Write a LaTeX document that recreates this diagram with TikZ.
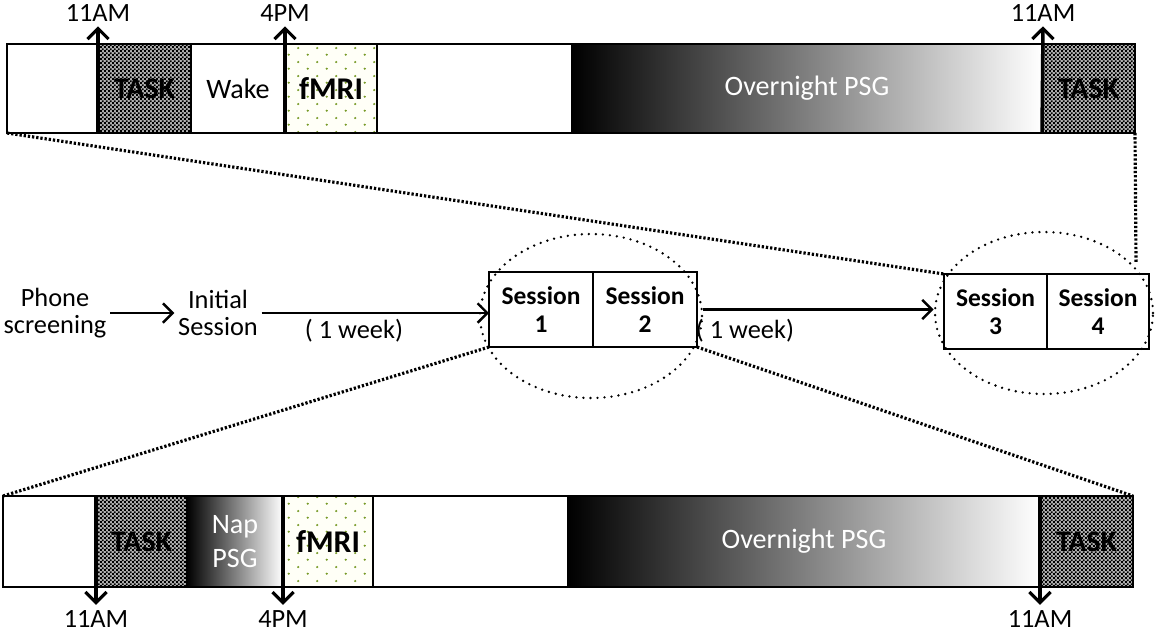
\documentclass[tikz,border=0pt]{standalone}
\usepackage{fontspec}
\setmainfont{Carlito}
\usetikzlibrary{arrows.meta,patterns,patterns.meta,shapes.geometric}
\definecolor{fmribg}{RGB}{255,255,247}
\definecolor{dotgreen}{RGB}{120,155,40}
\tikzdeclarepattern{
  name=finecheck,
  type=uncolored,
  bottom left={(0pt,0pt)},
  top right={(2.4pt,2.4pt)},
  tile size={(2.4pt,2.4pt)},
  code={
    \fill (0pt,0pt) rectangle (1.2pt,1.2pt);
    \fill (1.2pt,1.2pt) rectangle (2.4pt,2.4pt);
  }
}
\tikzdeclarepattern{
  name=greendots,
  type=colored,
  bottom left={(0pt,0pt)},
  top right={(10.8pt,8pt)},
  tile size={(10.8pt,8pt)},
  code={
    \fill[dotgreen] (2.7pt,2pt) circle (0.7pt);
    \fill[dotgreen] (8.1pt,6pt) circle (0.7pt);
  }
}
\begin{document}
\begin{tikzpicture}[x=0.02cm,y=-0.02cm,
  seg/.style={draw, line width=0.75pt, inner sep=0pt, outer sep=0pt, align=center},
  plainseg/.style={seg, fill=white, font=\fontsize{16}{18}\selectfont},
  taskseg/.style={seg, line width=1.1pt, preaction={fill=black!30}, pattern=finecheck, pattern color=black,
     font=\fontsize{17}{19}\selectfont\bfseries},
  fmriseg/.style={seg, preaction={fill=fmribg}, pattern=greendots, font=\fontsize{18}{20}\selectfont\bfseries},
  gradseg/.style={seg, left color=black, right color=white, text=white,
     font=\fontsize{16}{19}\selectfont},
  timelab/.style={font=\fontsize{15}{17}\selectfont, inner sep=0pt, outer sep=3pt},
  timearrow/.style={line width=2pt, -{Straight Barb[length=6pt,width=12pt,line width=1.8pt]}},
  mtext/.style={font=\fontsize{15}{15.5}\selectfont, align=center, inner sep=2pt},
  sessbox/.style={draw, line width=0.75pt, inner sep=0pt, outer sep=0pt, align=center,
     font=\fontsize{14.5}{16}\selectfont\bfseries},
  flowarrow/.style={line width=1.5pt, -{Straight Barb[length=5.5pt,width=11pt,line width=1.4pt]}},
  zoomline/.style={line width=1.8pt, dash pattern=on 1.3pt off 1.1pt},
  ringstyle/.style={draw, ellipse, line width=1.5pt, line cap=round, dash pattern=on 0pt off 4pt,
     inner sep=0pt}
]
\useasboundingbox (0,0) rectangle (1155,633);

% ---------- top bar (y 44..133) ----------
\node[plainseg, minimum width=91*0.02cm, minimum height=89*0.02cm] (tw1) at (52.5,88.5) {};
\node[taskseg, minimum width=93*0.02cm, minimum height=89*0.02cm] (tt1) at (144.5,88.5) {TASK};
\node[plainseg, minimum width=94*0.02cm, minimum height=89*0.02cm] (twake) at (238,88.5) {Wake};
\node[fmriseg, minimum width=92*0.02cm, minimum height=89*0.02cm] (tf) at (331,88.5) {fMRI};
\node[plainseg, minimum width=195*0.02cm, minimum height=89*0.02cm] (tw2) at (474.5,88.5) {};
\node[gradseg, minimum width=470*0.02cm, minimum height=89*0.02cm] (tov) at (807,88.5) {Overnight PSG};
\node[taskseg, minimum width=93*0.02cm, minimum height=89*0.02cm] (tt2) at (1088.5,88.5) {TASK};

\node[timelab, anchor=base] (lt1) at (98,21) {11AM};
\node[timelab, anchor=base] (lt2) at (285,21) {4PM};
\node[timelab, anchor=base] (lt3) at (1043,21) {11AM};
\draw[timearrow] (tt1.south west) -- (lt1.south);
\draw[timearrow] (tf.south west) -- (lt2.south);
\draw[timearrow] (tt2.south west) -- (lt3.south);

% ---------- bottom bar (y 496..587) ----------
\node[plainseg, minimum width=93*0.02cm, minimum height=91*0.02cm] (bw1) at (49.5,541.5) {};
\node[taskseg, minimum width=91*0.02cm, minimum height=91*0.02cm] (bt1) at (141.5,541.5) {TASK};
\node[gradseg, minimum width=96*0.02cm, minimum height=91*0.02cm] (bnap) at (235,541.5) {Nap\\PSG};
\node[fmriseg, minimum width=90*0.02cm, minimum height=91*0.02cm] (bf) at (328,541.5) {fMRI};
\node[plainseg, minimum width=195*0.02cm, minimum height=91*0.02cm] (bw2) at (470.5,541.5) {};
\node[gradseg, minimum width=472*0.02cm, minimum height=91*0.02cm] (bov) at (804,541.5) {Overnight PSG};
\node[taskseg, minimum width=93*0.02cm, minimum height=91*0.02cm] (bt2) at (1086.5,541.5) {TASK};

\node[timelab, anchor=base] (lb1) at (96,627) {11AM};
\node[timelab, anchor=base] (lb2) at (283,627) {4PM};
\node[timelab, anchor=base] (lb3) at (1040,627) {11AM};
\draw[timearrow] (bt1.north west) -- (lb1.north);
\draw[timearrow] (bf.north west) -- (lb2.north);
\draw[timearrow] (bt2.north west) -- (lb3.north);

% ---------- middle flow ----------
\node[mtext] (ps) at (55,313) {Phone\\screening};
\node[mtext] (is) at (218,313) {Initial\\Session};

\node[ringstyle, minimum width=222*0.02cm, minimum height=164*0.02cm] (e12) at (591,316) {};
\node[ringstyle, minimum width=218*0.02cm, minimum height=162*0.02cm] (e34) at (1044,313) {};

\node[sessbox, minimum width=104*0.02cm, minimum height=75*0.02cm] (s1) at (541,309.5) {Session\\1};
\node[sessbox, minimum width=104*0.02cm, minimum height=75*0.02cm] (s2) at (645,309.5) {Session\\2};
\node[sessbox, minimum width=103*0.02cm, minimum height=75*0.02cm] (s3) at (995.5,311.5) {Session\\3};
\node[sessbox, minimum width=102*0.02cm, minimum height=75*0.02cm] (s4) at (1098,311.5) {Session\\4};

\draw[flowarrow] (ps.east) -- (is.west);
\draw[flowarrow] (is.east) -- (is.east -| s1.west);
\draw[flowarrow] (s2.east -| e12.east) -- (s2.east -| e34.west);

\node[mtext] (wk1) at (354,331) {( 1 week)};
\node[mtext] (wk2) at (745,331) {( 1 week)};

% ---------- zoom lines ----------
\coordinate (v34) at (1136,262);
\draw[zoomline] (tw1.south west) -- (s3.north west);
\draw[zoomline] (tt2.south east) -- (v34);
\draw[zoomline] (s1.south west) -- (bw1.north west);
\draw[zoomline] (s2.south east) -- (bt2.north east);
\end{tikzpicture}
\end{document}
